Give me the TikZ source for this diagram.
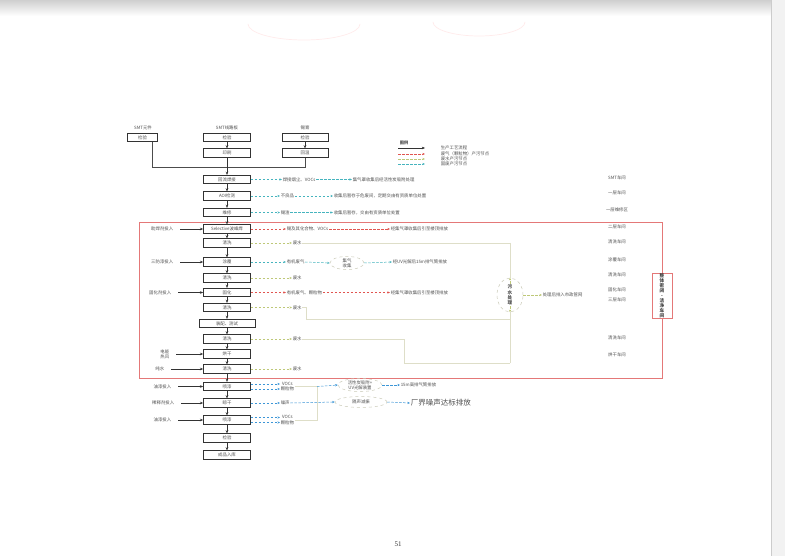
\documentclass[tikz,border=0pt]{standalone}
\usepackage{fontspec}
\setmainfont{Noto Sans CJK SC}
\newfontfamily\pagenumfont{Liberation Serif}
\usetikzlibrary{arrows.meta,shapes.geometric}
\definecolor{txt}{RGB}{80,80,80}
\definecolor{wred}{RGB}{225,85,80}
\definecolor{wgreen}{RGB}{190,200,120}
\definecolor{wblue}{RGB}{60,150,215}
\definecolor{wteal}{RGB}{70,180,190}
\definecolor{faint}{RGB}{222,222,200}
\definecolor{redframe}{RGB}{228,120,120}
\newcommand\myfs{\fontsize{4.4}{5.2}\selectfont}
\begin{document}
\begin{tikzpicture}[x=1pt,y=-1pt,
  every node/.style={inner sep=0.6pt},
  proc/.style={draw=black!80,line width=0.75pt,minimum width=47pt,minimum height=8.5pt,inner sep=0pt,font=\myfs,text=txt},
  lbl/.style={font=\myfs,text=txt,align=center},
  flow/.style={draw=black!80,line width=0.6pt,-{Stealth[length=3.2pt,width=2.6pt]}},
  pr/.style={draw=wred,line width=0.5pt,dash pattern=on 2.5pt off 1.5pt,-{Stealth[length=2.6pt,width=2.2pt]}},
  pg/.style={pr,draw=wgreen},
  pb/.style={pr,draw=wblue},
  pt/.style={pr,draw=wteal},
  faintline/.style={draw=faint,line width=0.5pt},
  oval/.style={ellipse,draw=faint!80!gray,line width=0.5pt,dashed,font=\myfs,text=txt,align=center,inner sep=0pt},
  stamp/.style={draw=red!25,line width=0.7pt,opacity=0.3}
]
\useasboundingbox (0,0) rectangle (785,556);
\fill[white] (0,0) rectangle (785,556);
% scan edges
\shade[top color=gray!38,bottom color=white] (0,0) rectangle (785,16);
\fill[gray!10] (771,0) rectangle (785,556);
\draw[gray!40,line width=0.8pt] (771,0) -- (771,556);
\draw[stamp] (360,24) arc[start angle=0,end angle=180,x radius=56,y radius=16];
\draw[stamp] (525,22) arc[start angle=0,end angle=180,x radius=46,y radius=14];

% top inputs
\node[lbl] (t1) at (143,128) {SMT元件};
\node[proc,minimum width=30pt] (a1) at (142.5,137.5) {检验};
\node[lbl] (t2) at (227,128) {SMT线路板};
\node[proc] (b1) at (227,137.5) {检验};
\node[proc] (b2) at (227,153) {印刷};
\node[lbl] (t3) at (305,128) {锡膏};
\node[proc,minimum width=46pt] (c1) at (305,137.5) {检验};
\node[proc,minimum width=46pt] (c2) at (305,153) {回温};
\coordinate (m) at (227,167);
\coordinate (a1d) at (152,142);
\draw[flow] (b1) -- (b2);
\draw[flow] (c1) -- (c2);
\draw[draw=black!70,line width=0.6pt] (a1d) -- (a1d |- m) -- (c2.south |- m) -- (c2.south);

% legend
\node[lbl,font=\fontsize{4.2}{5}\selectfont\bfseries] (lgt) at (404,143) {图例};
\coordinate (l1a) at (398,148); \coordinate (l1b) at (425,148);
\coordinate (l2a) at (398,154); \coordinate (l2b) at (425,154);
\coordinate (l3a) at (398,159); \coordinate (l3b) at (425,159);
\coordinate (l4a) at (398,164); \coordinate (l4b) at (425,164);
\draw[flow,line width=0.4pt] (l1a) -- (l1b);
\draw[pr] (l2a) -- (l2b);
\draw[pg] (l3a) -- (l3b);
\draw[pt] (l4a) -- (l4b);
\node[lbl,anchor=west] (lg1) at (440,148) {生产工艺流程};
\node[lbl,anchor=west] (lg2) at (440,154) {废气（颗粒物）产污节点};
\node[lbl,anchor=west] (lg3) at (440,159) {废水产污节点};
\node[lbl,anchor=west] (lg4) at (440,164) {固废产污节点};

% red frame
\draw[redframe,line width=0.7pt] (139,222) rectangle (662,378);

% main column
\node[proc] (r1) at (227,179.5) {回流焊接};
\node[proc] (r2) at (227,196) {AOI检测};
\node[proc] (r3) at (227,212.5) {维修};
\node[proc] (r4) at (227,229) {Selective波峰焊};
\node[proc] (r5) at (227,243) {清洗};
\node[proc] (r6) at (227,262) {涂覆};
\node[proc] (r7) at (227,278) {清洗};
\node[proc] (r8) at (227,292.5) {固化};
\node[proc] (r9) at (227,307.5) {清洗};
\node[proc,minimum width=56pt] (r10) at (227,323.5) {装配、测试};
\node[proc] (r11) at (227,339) {清洗};
\node[proc] (r12) at (227,354) {烘干};
\node[proc] (r13) at (227,369) {清洗};
\node[proc] (r14) at (227,386.5) {喷漆};
\node[proc] (r15) at (227,403) {晾干};
\node[proc] (r16) at (227,420) {喷漆};
\node[proc] (r17) at (227,438) {检验};
\node[proc] (r18) at (227,455) {成品入库};
\draw[flow] (b2) -- (r1);
\foreach \a/\b in {r1/r2,r2/r3,r3/r4,r4/r5,r5/r6,r6/r7,r7/r8,r8/r9,r9/r10,r10/r11,r11/r12,r12/r13,r13/r14,r14/r15,r15/r16,r16/r17,r17/r18}
  \draw[flow] (\a) -- (\b);

% left inputs
\node[lbl,anchor=east] (i4) at (174,229) {助焊剂投入};
\node[lbl,anchor=east] (i6) at (174,262) {三防漆投入};
\node[lbl,anchor=east] (i8) at (172,292.5) {固化剂投入};
\node[lbl,anchor=east] (i12) at (170,354) {电能\\热风};
\node[lbl,anchor=east] (i13) at (165,369) {纯水};
\node[lbl,anchor=east] (i14) at (172,386.5) {油漆投入};
\node[lbl,anchor=east] (i15) at (175,403) {稀释剂投入};
\node[lbl,anchor=east] (i16) at (172,420) {油漆投入};
\foreach \n in {4,6,8,12,13,14,15,16}
  \draw[flow] ([xshift=6pt]i\n.east |- r\n.west) -- (r\n.west);

% rows 1-3
\node[lbl,anchor=west] (p1a) at (282,179.5) {焊接烟尘、VOCs};
\node[lbl,anchor=west] (p1b) at (352,179.5) {集气罩收集后经活性炭吸附处理};
\draw[pt] (r1.east) -- (p1a.west);
\draw[pt] (p1a.east) -- (p1b.west);
\node[lbl,anchor=west] (p2a) at (280,196) {不良品};
\node[lbl,anchor=west] (p2b) at (333,196) {收集后暂存于危废间，定期交由有资质单位处置};
\draw[pt] (r2.east) -- (p2a.west);
\draw[pt] (p2a.east) -- (p2b.west);
\node[lbl,anchor=west] (p3a) at (280,212.5) {锡渣};
\node[lbl,anchor=west] (p3b) at (333,212.5) {收集后暂存，交由有资质单位处置};
\draw[pt] (r3.east) -- (p3a.west);
\draw[pt] (p3a.east) -- (p3b.west);

% row 4 & 8 (waste gas)
\node[lbl,anchor=west] (p4a) at (286,229) {锡及其化合物、VOCs};
\node[lbl,anchor=west] (p4b) at (390,229) {经集气罩收集后引至楼顶排放};
\draw[pr] (r4.east) -- (p4a.west);
\draw[pr] (p4a.east) -- (p4b.west);
\node[lbl,anchor=west] (p8a) at (286,292.5) {有机废气、颗粒物};
\node[lbl,anchor=west] (p8b) at (390,292.5) {经集气罩收集后引至楼顶排放};
\draw[pr] (r8.east) -- (p8a.west);
\draw[pr] (p8a.east) -- (p8b.west);

% row 6
\node[lbl,anchor=west] (p6a) at (286,262) {有机废气};
\node[oval,minimum width=34pt,minimum height=13pt] (e6) at (347,263) {集气\\收集};
\node[lbl,anchor=west] (p6b) at (392,262) {经UV光解后15m排气筒排放};
\draw[pt] (r6.east) -- (p6a.west);
\draw[pt] (p6a.east) -- (e6.west);
\draw[pt] (e6.east) -- (p6b.west);

% waste water
\node[lbl,anchor=west] (w5) at (292,243) {废水};
\node[lbl,anchor=west] (w7) at (292,278) {废水};
\node[lbl,anchor=west] (w9) at (292,307.5) {废水};
\node[lbl,anchor=west] (w11) at (292,339) {废水};
\node[lbl,anchor=west] (w13) at (292,369) {废水};
\foreach \n in {5,7,9,11,13}
  \draw[pg] (r\n.east) -- (w\n.west);
\node[oval,minimum width=26pt,minimum height=34pt,font=\fontsize{4.6}{5.4}\selectfont\bfseries] (ws) at (510,295) {污\\水\\处\\理};
\coordinate (cx) at (510,243);
\coordinate (cy) at (510,363);
\draw[faintline] (w5.east) -- (cx);
\draw[faintline] (cx) -- (ws.north);
\draw[faintline] (w9.east) -- ++(4,0) |- (510,319);
\draw[faintline] (w11.east) -- (404,339) |- (cy);
\draw[faintline] (cy) -- (ws.south);
\draw[pg] ([yshift=-6pt]ws.north) -- (ws.north);
\draw[pg] ([yshift=6pt]ws.south) -- (ws.south);
\node[lbl,anchor=west] (wsout) at (542,295) {处理后排入市政管网};
\draw[pg] (ws.east) -- (wsout.west);

% right labels
\node[lbl] (rl1) at (617,178) {SMT车间};
\node[lbl] (rl2) at (617,193) {一层车间};
\node[lbl] (rl3) at (617,210) {一层维修区};
\node[lbl] (rl4) at (617,227) {二层车间};
\node[lbl] (rl5) at (617,242) {清洗车间};
\node[lbl] (rl6) at (617,260) {涂覆车间};
\node[lbl] (rl7) at (617,275) {清洗车间};
\node[lbl] (rl8) at (617,290) {固化车间};
\node[lbl] (rl9) at (617,300) {三层车间};
\node[lbl] (rl11) at (617,338) {清洗车间};
\node[lbl] (rl12) at (617,355) {烘干车间};
\node[draw=redframe,fill=white,line width=0.8pt,minimum width=20pt,minimum height=45pt,font=\fontsize{4.6}{5}\selectfont\bfseries,text=black!75,align=center,inner sep=0pt] (vb) at (662,296) {整\\体\\密\\闭\\-\\洁\\净\\车\\间};

% bottom rows
\node[lbl,anchor=west] (p14a) at (280,386.5) {VOCs\\颗粒物};
\node[lbl,anchor=west] (p15a) at (280,403) {噪声};
\node[lbl,anchor=west] (p16a) at (280,420) {VOCs\\颗粒物};
\coordinate (bk1) at (317,386.5);
\coordinate (bk2) at (317,420);
\draw[pb] ([yshift=-2.5pt]r14.east) -- ([yshift=-2.5pt]p14a.west);
\draw[pb] ([yshift=2.5pt]r14.east) -- ([yshift=2.5pt]p14a.west);
\draw[pb] (r15.east) -- (p15a.west);
\draw[pb] ([yshift=-2.5pt]r16.east) -- ([yshift=-2.5pt]p16a.west);
\draw[pb] ([yshift=2.5pt]r16.east) -- ([yshift=2.5pt]p16a.west);
\draw[faintline] (p14a.east) -- (bk1) -- (bk2) -- (p16a.east);
\node[oval,minimum width=44pt,minimum height=11pt] (e14) at (360,385) {活性炭吸附+\\UV光解装置};
\node[oval,minimum width=52pt,minimum height=11pt] (e15) at (361,402) {隔声减振};
\node[lbl,anchor=west] (p14b) at (400,385) {15m高排气筒排放};
\node[lbl,anchor=west,font=\fontsize{7.5}{8}\selectfont] (p15b) at (410,403) {厂界噪声达标排放};
\draw[pb] (bk1) -- (e14.west);
\draw[pb] (e14.east) -- (p14b.west);
\draw[pb] (p15a.east) -- (e15.west);
\draw[pb] (e15.east) -- (p15b.west);

% page number
\node[font=\pagenumfont\fontsize{7}{8}\selectfont,text=black!80] (pn) at (398,544) {51};
\end{tikzpicture}
\end{document}
